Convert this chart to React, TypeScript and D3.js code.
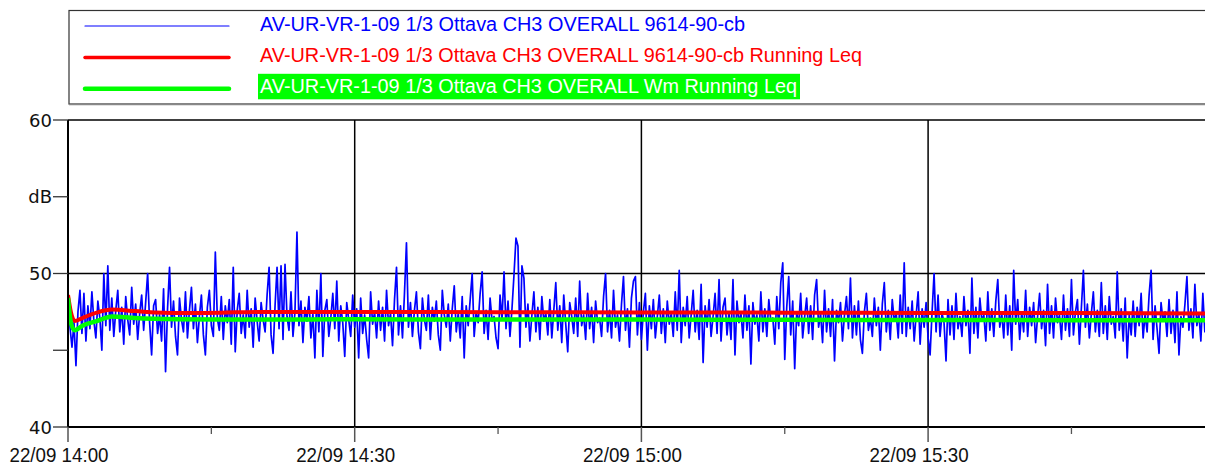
import React from 'react';
import * as d3 from 'd3';

// 1/3 octave CH3 overall level, one sample every 12.5 s from 22/09 14:00
const startTime = new Date(2023, 8, 22, 14, 0, 0);
const endTime = new Date(2023, 8, 22, 16, 0, 0);
const sampleSeconds = 12.5;

const overallDb = [
  48.6, 46.5, 45.2, 46.8, 44.0, 47.5, 48.9, 46.1, 48.7, 45.6, 47.9, 46.4, 48.8, 46.9, 45.8, 48.2, 47.1, 45.0, 50.0, 46.6,
  50.5, 46.3, 48.4, 45.9, 47.6, 48.9, 46.2, 47.8, 45.4, 48.5, 47.0, 46.0, 49.1, 46.7, 48.0, 45.7, 47.4, 48.6, 46.3, 48.1,
  50.0, 46.8, 44.7, 47.9, 48.3, 46.1, 47.3, 45.6, 49.0, 43.6, 47.7, 50.4, 46.5, 48.2, 45.9, 44.7, 48.4, 47.0, 46.2, 48.8,
  45.8, 47.6, 49.1, 46.4, 48.0, 45.5, 47.2, 48.6, 46.0, 44.7, 47.8, 48.9, 46.6, 45.9, 51.4, 47.1, 46.3, 48.5, 45.7, 47.9,
  46.8, 48.3, 45.4, 50.4, 44.9, 47.6, 48.7, 46.1, 47.3, 45.8, 48.9, 46.5, 47.7, 45.2, 48.4, 46.9, 45.6, 48.1, 47.0, 46.2,
  48.6, 50.4, 46.0, 44.8, 47.9, 50.4, 46.4, 50.5, 45.7, 50.6, 47.2, 46.3, 48.8, 45.9, 47.5, 52.7, 46.6, 48.2, 45.5, 47.8,
  46.9, 48.5, 45.8, 47.4, 44.5, 48.9, 46.2, 50.0, 44.6, 47.6, 48.3, 45.9, 47.1, 48.7, 46.4, 49.5, 45.6, 47.9, 46.8, 44.6,
  48.1, 47.0, 45.9, 48.6, 46.5, 47.7, 44.5, 48.4, 46.1, 47.3, 45.7, 44.5, 48.8, 46.7, 47.5, 45.8, 48.2, 46.3, 47.8, 45.6,
  48.9, 46.6, 47.4, 45.3, 48.3, 50.4, 46.0, 47.9, 45.8, 48.7, 52.0, 46.5, 48.1, 45.9, 47.6, 48.8, 46.2, 45.1, 48.4, 47.0,
  46.3, 48.6, 45.7, 47.8, 46.9, 48.2, 46.0, 45.0, 48.9, 47.3, 46.5, 48.0, 45.6, 47.7, 49.2, 46.2, 47.4, 45.8, 48.5, 44.5,
  47.9, 46.6, 48.3, 50.0, 45.9, 47.5, 46.8, 48.7, 50.1, 46.1, 47.6, 45.7, 48.4, 46.9, 47.2, 45.8, 45.1, 48.6, 47.0, 50.1,
  46.4, 48.2, 45.9, 47.7, 49.9, 52.3, 51.8, 45.2, 50.5, 49.7, 46.5, 48.0, 45.6, 47.3, 48.8, 46.2, 47.8, 45.7, 48.5, 46.9,
  47.4, 46.0, 48.3, 45.8, 47.6, 49.4, 46.3, 47.9, 45.5, 48.6, 46.7, 44.9, 48.1, 47.2, 46.1, 48.4, 45.9, 49.5, 46.6, 47.3,
  45.7, 48.7, 46.4, 47.8, 45.5, 48.2, 46.8, 47.1, 45.9, 48.5, 50.0, 46.2, 47.6, 45.8, 48.9, 46.5, 47.3, 45.6, 48.0, 49.8,
  46.3, 47.7, 45.2, 48.4, 49.5, 49.8, 46.0, 48.1, 45.7, 47.5, 48.7, 45.0, 47.9, 46.4, 48.3, 45.8, 47.2, 48.6, 46.1, 47.7,
  45.5, 48.2, 46.7, 47.4, 45.9, 48.8, 46.3, 50.2, 45.5, 47.8, 46.6, 48.5, 45.8, 47.3, 48.9, 46.2, 47.6, 45.7, 49.3, 44.2,
  47.9, 46.5, 48.3, 45.9, 47.2, 48.7, 46.1, 49.6, 45.6, 47.8, 48.4, 46.0, 47.5, 45.7, 49.6, 44.7, 48.2, 46.8, 47.4, 45.8,
  48.6, 46.3, 47.9, 44.1, 48.1, 46.7, 47.3, 45.6, 48.8, 46.2, 47.7, 45.9, 48.3, 46.9, 47.1, 45.4, 48.5, 46.4, 49.4, 50.7,
  44.4, 47.8, 49.8, 46.0, 48.2, 43.8, 47.5, 46.6, 48.7, 45.8, 47.2, 48.4, 46.1, 47.9, 45.7, 48.6, 49.6, 46.5, 47.4, 45.5,
  48.9, 46.2, 47.7, 45.9, 48.3, 44.3, 47.6, 46.8, 48.1, 45.6, 47.3, 48.5, 46.4, 49.7, 45.8, 47.9, 46.0, 48.2, 45.7, 44.8,
  47.5, 48.7, 46.3, 47.1, 45.9, 48.4, 46.6, 47.8, 45.0, 48.0, 49.4, 46.2, 47.6, 45.7, 48.3, 46.9, 47.4, 45.8, 48.6, 46.1,
  50.7, 45.9, 47.8, 46.4, 48.2, 45.6, 47.3, 48.8, 45.4, 47.7, 46.5, 48.1, 45.8, 44.7, 47.5, 50.0, 46.2, 48.6, 45.9, 47.4,
  46.8, 44.3, 48.3, 46.0, 47.9, 45.7, 48.7, 46.4, 47.2, 45.9, 48.5, 46.6, 47.6, 44.8, 49.7, 46.1, 47.8, 45.8, 48.4, 46.9,
  47.3, 45.6, 48.8, 46.3, 47.7, 45.9, 48.2, 49.6, 46.5, 47.4, 45.8, 48.6, 46.0, 47.9, 45.0, 50.2, 46.7, 48.3, 45.7, 47.5,
  46.2, 48.9, 45.9, 47.8, 46.6, 48.1, 45.5, 47.2, 48.7, 46.4, 47.6, 45.3, 49.3, 46.1, 47.9, 45.8, 48.4, 46.8, 47.3, 45.7,
  48.6, 46.3, 47.7, 45.9, 49.6, 46.0, 47.5, 48.3, 45.4, 47.8, 50.2, 46.5, 48.0, 45.8, 47.4, 48.8, 46.2, 47.6, 45.9, 49.4,
  46.1, 47.9, 45.7, 48.5, 46.7, 47.2, 45.8, 50.1, 46.3, 47.7, 45.6, 48.4, 44.5, 47.3, 46.0, 48.2, 45.9, 47.8, 46.6, 48.7,
  45.8, 47.4, 46.2, 48.6, 50.2, 45.7, 47.9, 46.4, 44.8, 48.1, 46.9, 47.5, 45.9, 48.3, 46.1, 47.6, 45.5, 48.8, 44.7, 47.2,
  46.5, 48.0, 49.8, 46.3, 47.7, 45.8, 49.3, 46.6, 47.4, 45.6, 48.7, 46.2, 47.9, 45.9, 48.4, 46.8,
];

// running Leq curves, minutes after 14:00
const leqMinutes = [0, 0.3, 0.7, 1.5, 3, 4.6, 7, 11.5, 16, 20, 30, 45, 60, 75, 90, 105, 120];
const runningLeq = [48.6, 47.5, 46.9, 47.1, 47.45, 47.65, 47.55, 47.42, 47.45, 47.5, 47.5, 47.48, 47.46, 47.45, 47.43, 47.42, 47.4];
const wmRunningLeq = [48.4, 46.8, 46.3, 46.6, 46.9, 47.2, 47.1, 47.02, 47.0, 47.0, 47.02, 47.0, 47.0, 46.98, 46.97, 46.96, 46.95];

const legendLabels = [
  'AV-UR-VR-1-09 1/3 Ottava CH3 OVERALL 9614-90-cb',
  'AV-UR-VR-1-09 1/3 Ottava CH3 OVERALL 9614-90-cb Running Leq',
  'AV-UR-VR-1-09 1/3 Ottava CH3 OVERALL Wm Running Leq',
];
const yTickValues = [40, 45, 50, 55, 60];
const yTickLabels = ['40', '', '50', 'dB', '60'];

const addMin = (m: number) => new Date(startTime.getTime() + m * 60000);

export default function App() {
  const W = 1205;
  const left = 68, top = 120, bottom = 427;
  const x = d3.scaleTime().domain([startTime, endTime]).range([left, left + 4 * 286.7]);
  const y = d3.scaleLinear().domain([40, 60]).range([bottom, top]);

  const bluePts = overallDb.map((v, i) => [x(new Date(startTime.getTime() + i * sampleSeconds * 1000)), y(v)] as [number, number]);
  const rawLine = d3.line<[number, number]>().x(d => d[0]).y(d => d[1]);
  const leqLine = d3.line<number>()
    .x((_, i) => x(addMin(leqMinutes[i])))
    .y(d => y(d))
    .curve(d3.curveMonotoneX);

  const major = x.ticks(d3.timeMinute.every(30)!).filter(t => x(t) < W);
  const minor = x.ticks(d3.timeMinute.every(15)!).filter(t => t.getMinutes() % 30 !== 0 && x(t) < W);
  const fmt = d3.timeFormat('%d/%m %H:%M');

  const legendStyle = [
    { color: '#0000ff', width: 1.2, textWidth: 485, bg: null as string | null, textColor: '#0000ff' },
    { color: '#ff0000', width: 3.5, textWidth: 602, bg: null, textColor: '#ff0000' },
    { color: '#00ff00', width: 4.5, textWidth: 537, bg: '#00ff00', textColor: '#ffffff' },
  ];

  return (
    <svg width={W} height={465} style={{ position: 'absolute', left: 0, top: 0, background: '#fff' }}>
      <defs>
        <clipPath id="plot"><rect x={left} y={top} width={W - left} height={bottom - top} /></clipPath>
      </defs>

      {/* legend */}
      <rect x={69} y={10.5} width={1200} height={93.5} fill="#fff" stroke="#333" strokeWidth={1.2} />
      <line x1={69} x2={W} y1={104.5} y2={104.5} stroke="#888" strokeWidth={1.5} />
      {legendLabels.map((lbl, i) => {
        const s = legendStyle[i];
        const ly = 26 + i * 31.4;
        return (
          <g key={lbl}>
            <line x1={85} x2={229} y1={ly} y2={ly} stroke={s.color} strokeWidth={s.width} strokeLinecap="round" />
            {s.bg && <rect x={258} y={ly - 15} width={542} height={25.5} fill={s.bg} />}
            <text x={260} y={ly + 4.5} fontFamily="Liberation Sans, Arial, sans-serif" fontSize={20}
              fill={s.textColor} textLength={s.textWidth} lengthAdjust="spacingAndGlyphs">{lbl}</text>
          </g>
        );
      })}

      {/* grid */}
      <line x1={left} x2={W} y1={top} y2={top} stroke="#000" strokeWidth={1.5} />
      <line x1={left} x2={W} y1={y(50)} y2={y(50)} stroke="#000" strokeWidth={1.5} />
      {major.filter(t => +t !== +startTime).map(t => (
        <line key={+t} x1={x(t)} x2={x(t)} y1={top} y2={bottom} stroke="#000" strokeWidth={1.5} />
      ))}

      {/* data */}
      <g clipPath="url(#plot)">
        <path d={rawLine(bluePts) ?? ''} fill="none" stroke="#0000ff" strokeWidth={1.7} strokeLinejoin="round" />
        <path d={leqLine(runningLeq) ?? ''} fill="none" stroke="#ff0000" strokeWidth={4} />
        <path d={leqLine(wmRunningLeq) ?? ''} fill="none" stroke="#00ff00" strokeWidth={4.5} />
      </g>

      {/* axes */}
      <line x1={left} x2={left} y1={top} y2={bottom} stroke="#000" strokeWidth={2} />
      <line x1={left} x2={W} y1={bottom} y2={bottom} stroke="#000" strokeWidth={2} />
      {yTickValues.map((v, i) => (
        <g key={v}>
          <line x1={53} x2={left} y1={y(v)} y2={y(v)} stroke="#333" strokeWidth={1.3} />
          <text x={52} y={y(v) + 6.5} textAnchor="end" fontFamily="DejaVu Sans, sans-serif" fontSize={18} fill="#111">{yTickLabels[i]}</text>
        </g>
      ))}
      {major.map(t => (
        <g key={+t}>
          <line x1={x(t)} x2={x(t)} y1={bottom} y2={442} stroke="#555" strokeWidth={1.5} />
          <text x={x(t) - 9} y={462} textAnchor="middle" fontFamily="Liberation Sans, Arial, sans-serif" fontSize={21}
            fill="#111" textLength={99} lengthAdjust="spacingAndGlyphs">{fmt(t)}</text>
        </g>
      ))}
      {minor.map(t => (
        <line key={+t} x1={x(t)} x2={x(t)} y1={bottom} y2={434} stroke="#555" strokeWidth={1.3} />
      ))}
    </svg>
  );
}
